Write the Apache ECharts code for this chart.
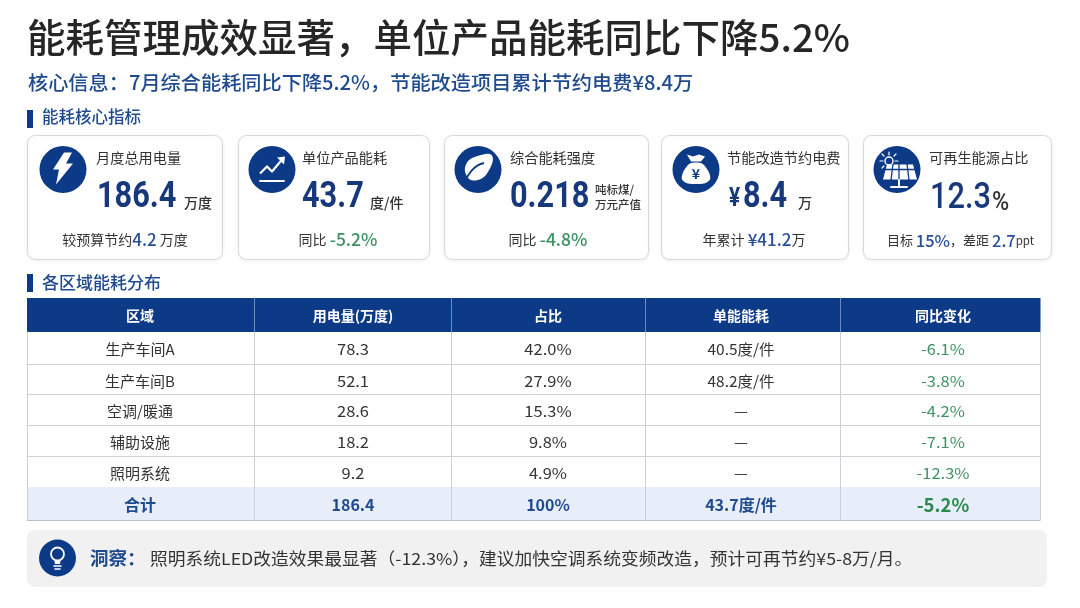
<!DOCTYPE html>
<html><head><meta charset="utf-8">
<style>html,body{margin:0;padding:0;background:#fff}#c{width:1080px;height:608px}</style>
<script src="https://cdn.jsdelivr.net/npm/echarts@6/dist/echarts.min.js"></script>
</head><body><div id="c"></div>
<script>
// ---- content ----
const pageTitle = '能耗管理成效显著，单位产品能耗同比下降5.2%';
const subTitle = '核心信息：7月综合能耗同比下降5.2%，节能改造项目累计节约电费¥8.4万';
const sectionTitles = ['能耗核心指标', '各区域能耗分布'];
const cardLabels = ['月度总用电量', '单位产品能耗', '综合能耗强度', '节能改造节约电费', '可再生能源占比'];
const cardValues = ['186.4', '43.7', '0.218', '8.4', '12.3'];
const tableHeaders = ['区域', '用电量(万度)', '占比', '单能能耗', '同比变化'];
const regions = ['生产车间A', '生产车间B', '空调/暖通', '辅助设施', '照明系统'];
const usage = ['78.3', '52.1', '28.6', '18.2', '9.2'];
const share = ['42.0%', '27.9%', '15.3%', '9.8%', '4.9%'];
const unitUse = ['40.5度/件', '48.2度/件', '—', '—', '—'];
const yoy = ['-6.1%', '-3.8%', '-4.2%', '-7.1%', '-12.3%'];
const totals = ['合计', '186.4', '100%', '43.7度/件', '-5.2%'];
const insightLead = '洞察：';
const insightBody = '照明系统LED改造效果最显著（-12.3%），建议加快空调系统变频改造，预计可再节约¥5-8万/月。';

// ---- style / layout ----
const NAVY = '#0d3a86', BLUE = '#1f4b8e', VAL = '#17397c', GREEN = '#3d9160';
const CJK = '"Noto Sans CJK SC","Noto Sans",sans-serif';
const NUM = 'Roboto,sans-serif';
const g = [];

function T(x, y, text, size, color, weight, align, extra) {
  const e = extra || {};
  const el = { type: 'text', x, y, silent: true, style: {
    text, fontSize: size, fontFamily: e.ff || CJK, fontWeight: weight || 400, fill: color,
    align: align || 'left', verticalAlign: 'middle' } };
  if (e.rich) el.style.rich = e.rich;
  if (e.scaleX) el.scaleX = e.scaleX;
  g.push(el);
}
function R(x, y, w, h, fill, stroke, r) {
  g.push({ type: 'rect', silent: true, shape: { x, y, width: w, height: h, r: r || 0 },
    style: { fill: fill || 'none', stroke: stroke || 'none', lineWidth: 1 } });
}
function L(x1, y1, x2, y2, c, w) {
  g.push({ type: 'line', silent: true, shape: { x1, y1, x2, y2 }, style: { stroke: c, lineWidth: w || 1, lineCap: 'round' } });
}
function C(cx, cy, r, fill, stroke, w) {
  g.push({ type: 'circle', silent: true, shape: { cx, cy, r }, style: { fill: fill || 'none', stroke: stroke || 'none', lineWidth: w || 1 } });
}
function P(cx, cy, pts, fill, smooth) {
  g.push({ type: 'polygon', silent: true, shape: { points: pts.map(p => [cx + p[0], cy + p[1]]), smooth: smooth || 0 }, style: { fill } });
}
function PL(cx, cy, pts, c, w) {
  g.push({ type: 'polyline', silent: true, shape: { points: pts.map(p => [cx + p[0], cy + p[1]]) }, style: { stroke: c, lineWidth: w, fill: 'none', lineJoin: 'round' } });
}

// heading
T(27, 37, pageTitle, 38.5, '#262626', 500);
T(28, 83, subTitle, 19.5, BLUE, 500, 'left', { scaleX: 1.035 });

// sections
[[110, 117], [274, 283]].forEach((s, i) => {
  R(27, s[0], 6, 18, NAVY);
  T(42, s[1], sectionTitles[i], i ? 17 : 16.5, BLUE, 500);
});

// cards
const cardBox = [[27.5, 195], [238.5, 191], [444.5, 204], [661.5, 187], [863.5, 188]];
cardBox.forEach(b => {
  g.push({ type: 'rect', silent: true, shape: { x: b[0], y: 135.5, width: b[1], height: 124, r: 8 },
    style: { fill: '#fff', stroke: '#d6d8dc', lineWidth: 1, shadowColor: 'rgba(0,0,0,.06)', shadowBlur: 4, shadowOffsetY: 1 } });
});
const iconX = [63, 272, 478, 696, 897];
iconX.forEach(x => C(x, 169.5, 23.5, NAVY));

// bolt
P(63, 169.5, [[1, -17], [-10, 0], [-4, 0], [-7, 15], [10, -6], [3, -6], [9, -17]], '#fff');
// trend
PL(272, 169.5, [[-12, 4], [-5, -3], [0, 2], [11, -11]], '#fff', 2.2);
P(272, 169.5, [[5, -12], [13, -13], [12, -5]], '#fff');
L(260, 181, 284, 181, '#fff', 1.8);
// leaf
P(478, 169.5, [[14, -14], [-2, -13], [-12, -5], [-11, 7], [-3, 11], [9, 4]], '#fff', 0.45);
g.push({ type: 'bezierCurve', silent: true, shape: { x1: 464, y1: 184, cpx1: 467, cpy1: 175, x2: 484, y2: 163, cpx2: 474, cpy2: 165 },
  style: { stroke: NAVY, lineWidth: 1.8, fill: 'none' } });
// money bag
P(696, 169.5, [[-6, -6], [6, -6], [13, 3], [14, 10], [8, 14], [-8, 14], [-14, 10], [-13, 3]], '#fff', 0.3);
P(696, 169.5, [[-9, -15], [-3, -13], [3, -15], [9, -13], [5, -8], [-5, -8]], '#fff');
T(696, 174, '¥', 14, NAVY, 700, 'center');
// solar
P(899, 169.5, [[-12, -5], [14, -5], [18, 10], [-16, 10]], '#fff');
L(884, 169.5, 916, 169.5, NAVY, 1.3);
L(893, 164, 891, 180, NAVY, 1.3); L(899, 164, 899, 180, NAVY, 1.3); L(907, 164, 909, 180, NAVY, 1.3);
L(899, 180, 899, 187, '#fff', 2); L(891, 187, 907, 187, '#fff', 2);
C(889, 161, 4, 'none', '#fff', 1.4);
[[889, 152, 889, 155], [880, 161, 883, 161], [882, 154, 884, 156], [882, 168, 884, 166], [896, 154, 894, 156], [898, 161, 895, 161]]
  .forEach(s => L(s[0], s[1], s[2], s[3], '#fff', 1.2));

// card labels
[96, 302, 510, 727, 929].forEach((x, i) => T(x, 157.5, cardLabels[i], 14.2, '#333', 400));

// card values
const valSize = 37, valY = 198, narrow = { ff: NUM, scaleX: 0.83 };
T(97, valY, cardValues[0], valSize, VAL, 700, 'left', narrow);
T(184, 203, '万度', 14, '#333', 500);
T(302, valY, cardValues[1], valSize, VAL, 700, 'left', narrow);
T(370, 203, '度/件', 14, '#333', 500);
T(510, valY, cardValues[2], valSize, VAL, 700, 'left', narrow);
T(595, 190, '吨标煤/', 11.5, '#333', 500);
T(595, 204.5, '万元产值', 11.5, '#333', 500);
T(729, 200, '¥', 25, VAL, 700, 'left', narrow);
T(743, valY, cardValues[3], valSize, VAL, 700, 'left', narrow);
T(798, 203, '万', 14, '#333', 500);
T(930, valY + 1, cardValues[4], valSize, VAL, 500, 'left', narrow);
T(992, 203, '%', 26, '#333', 500, 'left', { ff: NUM, scaleX: 0.9 });

// card footers (rich text)
const richBase = {
  a: { fontSize: 14, fill: '#333', fontFamily: CJK },
  b: { fontSize: 17, fill: '#2a4f9a', fontFamily: CJK, fontWeight: 500 },
  g: { fontSize: 17.5, fill: GREEN, fontFamily: CJK, fontWeight: 500 }
};
const richSmall = {
  a: { fontSize: 13, fill: '#333', fontFamily: CJK },
  b: { fontSize: 16.5, fill: '#2a4f9a', fontFamily: CJK, fontWeight: 500 },
  s: { fontSize: 11.5, fill: '#333', fontFamily: CJK }
};
T(125, 240, '{a|较预算节约}{b|4.2}{a| 万度}', 14, '#333', 400, 'center', { rich: richBase });
T(338, 239.5, '{a|同比 }{g|-5.2%}', 14, '#333', 400, 'center', { rich: richBase });
T(548, 239.5, '{a|同比 }{g|-4.8%}', 14, '#333', 400, 'center', { rich: richBase });
T(754, 240, '{a|年累计 }{b|¥41.2}{a|万}', 14, '#333', 400, 'center', { rich: richBase });
T(960.5, 240.5, '{a|目标 }{b|15%}{a|，差距 }{b|2.7}{s|ppt}', 13, '#333', 400, 'center', { rich: richSmall });

// table
const colEdges = [27.5, 254.5, 451.5, 645.5, 840.5, 1040.5];
const colMid = [140, 353, 548, 741, 943];
const bodyScale = [1, 1.1, 1.1, 1.03, 1.1];
const rowEdges = [332, 364.5, 394.5, 425.5, 456.5, 487];
R(27, 298, 1013.5, 34, NAVY);
R(27, 487, 1013.5, 33, '#e7eef9');
rowEdges.slice(1, -1).forEach(y => L(27, y, 1040, y, '#cdd0d6', 1));
L(27, 520.5, 1040, 520.5, '#b9c0cc', 1);
colEdges.forEach((x, i) => {
  L(x, 332, x, 520, '#ccd0d8', 1);
  if (i > 0 && i < 5) L(x, 298, x, 332, '#6f8bbb', 1);
});
tableHeaders.forEach((h, i) => T(colMid[i], 316, h, 14, '#fff', 700, 'center'));
[regions, usage, share, unitUse, yoy].forEach((col, c) => {
  col.forEach((v, r) => {
    T(colMid[c], (rowEdges[r] + rowEdges[r + 1]) / 2 + 1.5, v, 15, c === 4 ? GREEN : '#333', 400, 'center', { scaleX: bodyScale[c] });
  });
});
totals.forEach((v, c) => {
  T(colMid[c], 505, v, c === 4 ? 18.5 : 16, c === 4 ? '#2c8a4f' : BLUE, 700, 'center');
});

// insight
R(27, 530, 1020, 57, '#f1f1f2', null, 8);
C(57.5, 558, 18.5, NAVY);
C(57.5, 554, 6.5, 'none', '#fff', 1.8);
P(57.5, 558, [[-3, 3], [3, 3], [2.5, 6], [-2.5, 6]], '#fff');
L(54, 566, 61, 566, '#fff', 1.6); L(55, 569, 60, 569, '#fff', 1.6);
T(90, 558, insightLead, 18.5, BLUE, 700);
T(150, 559, insightBody, 16.5, '#333', 400, 'left', { scaleX: 1.076 });

const chart = echarts.init(document.getElementById('c'), null, { renderer: 'canvas', width: 1080, height: 608 });
chart.setOption({ backgroundColor: '#fff', animation: false, graphic: { elements: g } });
</script></body></html>
